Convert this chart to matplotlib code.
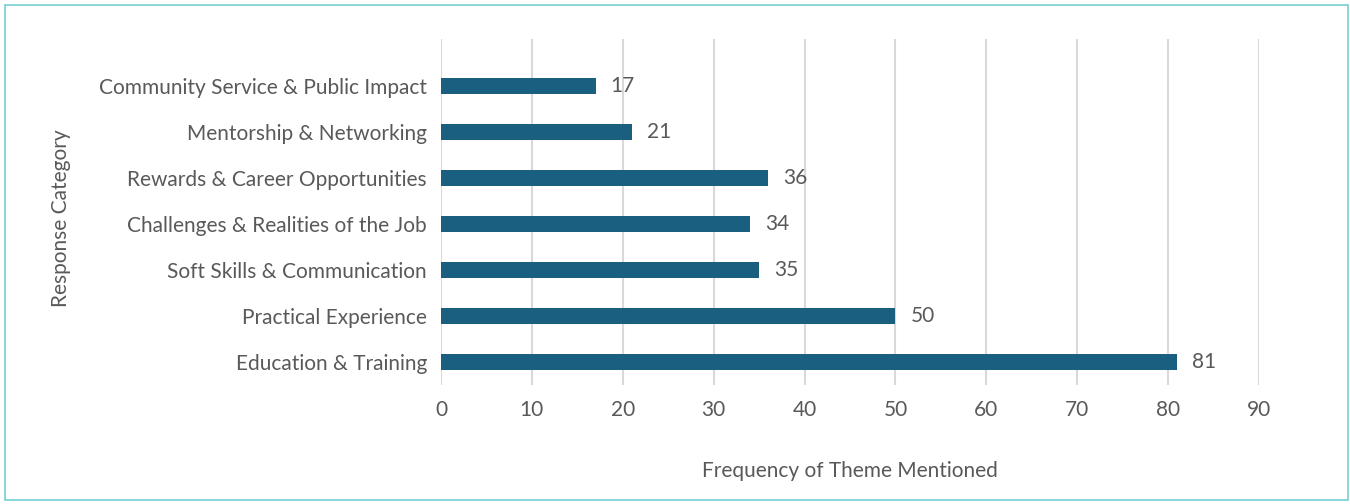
import matplotlib
matplotlib.use("Agg")
import matplotlib.pyplot as plt
from matplotlib.patches import Rectangle

categories = ["Education & Training", "Practical Experience", "Soft Skills & Communication",
              "Challenges & Realities of the Job", "Rewards & Career Opportunities",
              "Mentorship & Networking", "Community Service & Public Impact"]
values = [81, 50, 35, 34, 36, 21, 17]
xticks = [0, 10, 20, 30, 40, 50, 60, 70, 80, 90]

plt.rcParams['font.family'] = ['Lato', 'DejaVu Sans']
txt = '#595959'
bar_color = '#1a5f80'
fs = 15

fig = plt.figure(figsize=(13.5, 5.04), dpi=100)
ax = fig.add_axes([441/1350, 1-385/504, (1259-441)/1350, (385-39)/504])

pos = list(range(len(categories)))
ax.barh(pos, values, height=0.36, color=bar_color, zorder=3)
for p, v in zip(pos, values):
    ax.text(v + 1.65, p, str(v), va='center', ha='left', fontsize=fs, color=txt)

ax.set_xlim(0, 90)
ax.set_ylim(-0.5, 7.02)
ax.set_xticks(xticks)
ax.set_xticklabels([str(t) for t in xticks])
ax.set_yticks(pos)
ax.set_yticklabels(categories)
ax.tick_params(axis='both', length=0, labelsize=fs, colors=txt)
ax.tick_params(axis='y', pad=10)
ax.tick_params(axis='x', pad=11)
ax.grid(axis='x', color='#d9d9d9', linewidth=1.5, zorder=0)
for s in ax.spines.values():
    s.set_visible(False)

ax.set_xlabel("Frequency of Theme Mentioned", fontsize=fs, color=txt, labelpad=29)
fig.text(61/1350, 1-218/504, "Response Category", rotation=90, fontsize=fs, color=txt,
         ha='center', va='center')

fig.patches.append(Rectangle((5.5/1350, 4.5/504), (1347.5-5.5)/1350, (499.5-4.5)/504,
                             transform=fig.transFigure, fill=False, edgecolor='#7fd3d8',
                             linewidth=1.3))
fig.savefig("out.png", dpi=100, facecolor='white')
